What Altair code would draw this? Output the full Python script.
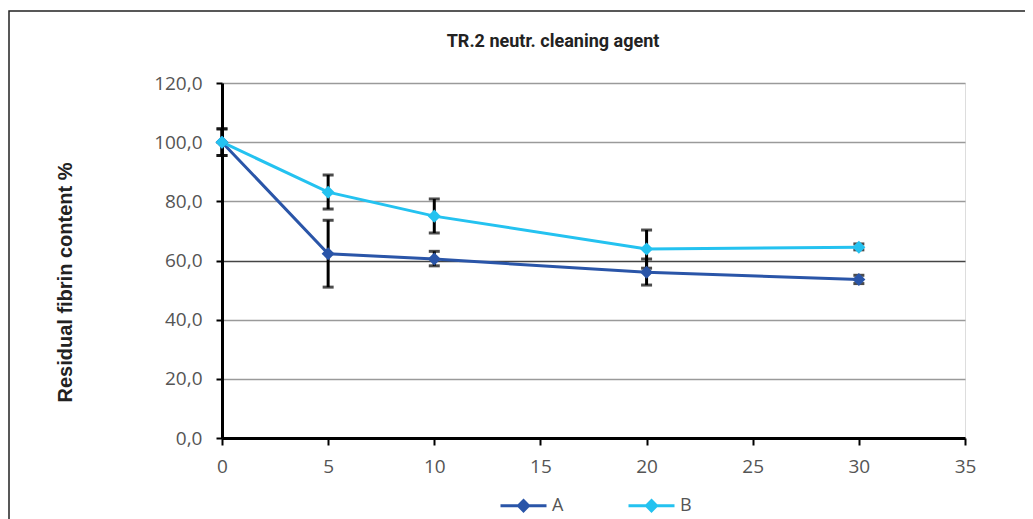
import altair as alt
import pandas as pd

# ---- data ----
time = [0, 5, 10, 20, 30]
series_names = ["A", "B"]
a_vals = [100.0, 62.3, 60.5, 56.0, 53.6]
a_lo = [95.5, 51.0, 58.2, 51.7, 52.2]
a_hi = [104.5, 73.6, 63.1, 60.5, 55.0]
b_vals = [100.0, 83.1, 75.0, 63.9, 64.5]
b_lo = [95.5, 77.4, 69.3, 57.4, 63.6]
b_hi = [104.5, 88.9, 80.8, 70.3, 65.6]
colors = ["#2a55a8", "#24c2f0"]
y_ticks = [0, 20, 40, 60, 80, 100, 120]
x_ticks = [0, 5, 10, 15, 20, 25, 30, 35]
chart_title = ["TR.2 neutr. cleaning agent"]

rows = []
for name, vals, lo, hi in [("A", a_vals, a_lo, a_hi), ("B", b_vals, b_lo, b_hi)]:
    for t, v, l, h in zip(time, vals, lo, hi):
        rows.append({"series": name, "time": t, "value": v, "lo": l, "hi": h})
df = pd.DataFrame(rows)

W, H = 743, 355

xs = alt.Scale(domain=[0, 35], nice=False)
ys = alt.Scale(domain=[0, 120], nice=False)
cs = alt.Scale(domain=series_names, range=colors)

x_axis = alt.Axis(values=x_ticks, grid=False, domainColor="black", domainWidth=3,
                  tickColor="black", tickWidth=2, tickSize=7, labelFont="Open Sans",
                  labelFontSize=19, labelColor="#555", labelPadding=12, labelFlush=False,
                  title=None)
y_axis = alt.Axis(values=y_ticks, grid=True,
                  gridColor=alt.expr("datum.value == 60 ? '#444' : '#9a9a9a'"),
                  gridWidth=1.5,
                  labelExpr="replace(format(datum.value, '.1f'), '.', ',')",
                  domainColor="black", domainWidth=3, tickColor="black", tickWidth=2,
                  tickSize=6, labelFont="Open Sans", labelFontSize=19, labelColor="#555",
                  labelPadding=14, labelFlush=False, title="Residual fibrin content %",
                  titleFont="Liberation Sans", titleFontSize=20, titleFontWeight="bold",
                  titleColor="#222", titleX=-157, titleY=199, titleAngle=270,
                  titleAlign="center", titleBaseline="middle")

legend = alt.Legend(
    title=None, orient="none", direction="horizontal", legendX=277, legendY=398,
    symbolType="M-1,0L1,0M0,-0.22L0.22,0L0,0.22L-0.22,0Z", symbolSize=2116,
    symbolStrokeWidth=3, labelFont="Open Sans", labelFontSize=18, labelColor="#555",
    labelOffset=4, columnPadding=58)

base = alt.Chart(df)

border = alt.Chart(alt.Data(values=[{}])).mark_rect(
    filled=False, stroke="#222", strokeWidth=1.5
).encode(x=alt.value(-213), x2=alt.value(809), y=alt.value(-72), y2=alt.value(520))

title = alt.Chart(pd.DataFrame({"t": chart_title})).mark_text(
    font="Roboto", fontSize=18, fontWeight="bold", color="#222",
    align="center", baseline="middle"
).encode(text="t:N", x=alt.value(331), y=alt.value(-41))

err_rule = base.mark_rule(color="black", strokeWidth=3).encode(
    x=alt.X("time:Q", scale=xs, axis=x_axis),
    y=alt.Y("lo:Q", scale=ys, axis=y_axis),
    y2="hi:Q",
)
err_lo = base.mark_tick(color="black", orient="horizontal", size=11, thickness=3).encode(
    x=alt.X("time:Q", scale=xs), y=alt.Y("lo:Q", scale=ys))
err_hi = base.mark_tick(color="black", orient="horizontal", size=11, thickness=3).encode(
    x=alt.X("time:Q", scale=xs), y=alt.Y("hi:Q", scale=ys))

lines = base.mark_line(strokeWidth=3).encode(
    x=alt.X("time:Q", scale=xs),
    y=alt.Y("value:Q", scale=ys),
    color=alt.Color("series:N", scale=cs, legend=legend),
)
points = base.mark_point(shape="diamond", filled=True, size=170, opacity=1).encode(
    x=alt.X("time:Q", scale=xs),
    y=alt.Y("value:Q", scale=ys),
    color=alt.Color("series:N", scale=cs, legend=legend),
)

chart = alt.layer(border, title, err_rule, err_lo, err_hi, lines, points).properties(
    width=W, height=H,
    autosize=alt.AutoSizeParams(type="none"),
    padding={"left": 214, "top": 75, "right": 60, "bottom": 81},
).configure_view(stroke=None).configure(background="white")

chart.save("out.html", embed_options={"renderer": "svg", "actions": False})
